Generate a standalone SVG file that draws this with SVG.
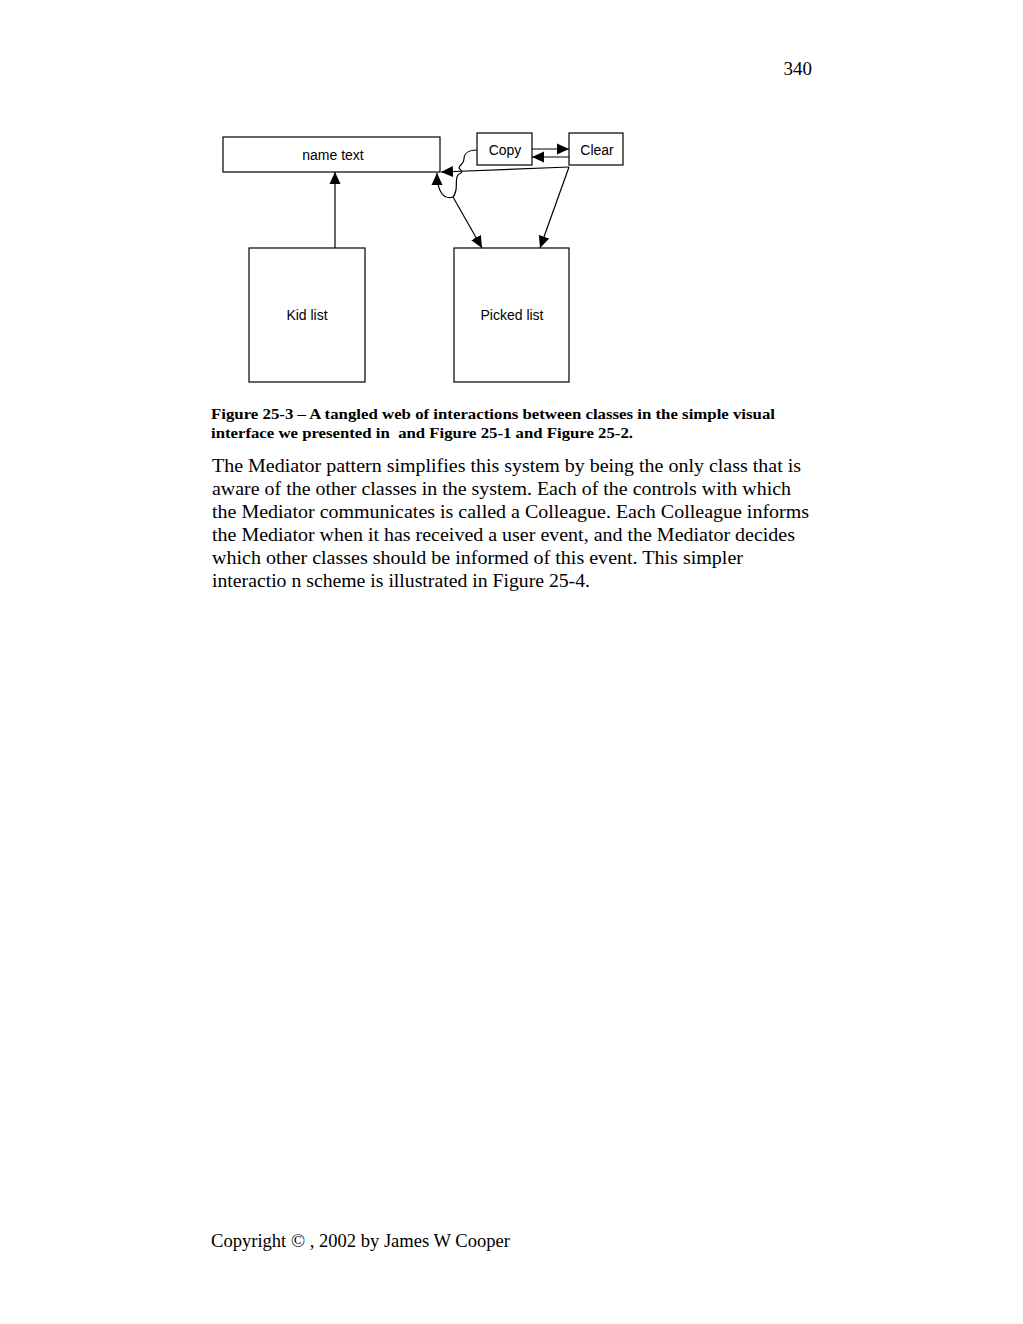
<svg xmlns="http://www.w3.org/2000/svg" width="1023" height="1324" viewBox="0 0 1023 1324">
<style>
.box{fill:#fff;stroke:#000;stroke-width:1.2}
.lbl{font-family:"Liberation Sans",Arial,sans-serif;font-size:14px;text-anchor:middle;fill:#000}
.cap{font-family:"Liberation Serif","Times New Roman",serif;font-size:15px;font-weight:bold;fill:#000}
.body{font-family:"Liberation Serif","Times New Roman",serif;font-size:19px;fill:#000}
.edge{fill:none;stroke:#000;stroke-width:1.2}
</style>
<defs>
<marker id="ah" viewBox="0 0 12 12" refX="12" refY="6" markerWidth="12" markerHeight="12" markerUnits="userSpaceOnUse" orient="auto">
<path d="M0,0.5 L12,6 L0,11.5 z" fill="#000"/>
</marker>
</defs>
<rect width="1023" height="1324" fill="#fff"/>
<text x="812" y="75" class="body" font-size="18" text-anchor="end">340</text>

<g id="name-text"><rect class="box" x="223" y="137" width="217" height="35"/><text class="lbl" x="333" y="160">name text</text></g>
<g id="copy"><rect class="box" x="477" y="133" width="55" height="32"/><text class="lbl" x="505" y="155">Copy</text></g>
<g id="clear"><rect class="box" x="569" y="133" width="54" height="32"/><text class="lbl" x="597" y="155">Clear</text></g>
<g id="kid-list"><rect class="box" x="249" y="248" width="116" height="134"/><text class="lbl" x="307" y="320">Kid list</text></g>
<g id="picked-list"><rect class="box" x="454" y="248" width="115" height="134"/><text class="lbl" x="512" y="320">Picked list</text></g>

<g id="connectors">
<line class="edge" x1="335" y1="248" x2="335" y2="172" marker-end="url(#ah)"/>
<line class="edge" x1="532" y1="149" x2="569" y2="149" marker-end="url(#ah)"/>
<line class="edge" x1="569" y1="157" x2="532" y2="157" marker-end="url(#ah)"/>
<line class="edge" x1="569" y1="167" x2="441" y2="172" marker-end="url(#ah)"/>
<line class="edge" x1="569" y1="167" x2="540" y2="248" marker-end="url(#ah)"/>
<path class="edge" d="M477,150 C468,150 464,154 464,159 C464,164 459,165 459,168 C461,171 464,172 459,174 C455,176 457,184 456,190 C455,194 454,196 453,197"/>
<path class="edge" d="M453,197 C444,200 437,192 437,173" marker-end="url(#ah)"/>
<line class="edge" x1="453" y1="197" x2="482" y2="248" marker-end="url(#ah)"/>
</g>

<text class="cap" x="211" y="419" textLength="564" lengthAdjust="spacingAndGlyphs">Figure 25-3 – A tangled web of interactions between classes in the simple visual</text>
<text class="cap" x="211" y="438" textLength="422" lengthAdjust="spacingAndGlyphs" xml:space="preserve">interface we presented in  and Figure 25-1 and Figure 25-2.</text>

<text class="body" x="212" y="472" textLength="589" lengthAdjust="spacingAndGlyphs">The Mediator pattern simplifies this system by being the only class that is</text>
<text class="body" x="212" y="495" textLength="579" lengthAdjust="spacingAndGlyphs">aware of the other classes in the system. Each of the controls with which</text>
<text class="body" x="212" y="518" textLength="597" lengthAdjust="spacingAndGlyphs">the Mediator communicates is called a Colleague. Each Colleague informs</text>
<text class="body" x="212" y="541" textLength="583" lengthAdjust="spacingAndGlyphs">the Mediator when it has received a user event, and the Mediator decides</text>
<text class="body" x="212" y="564" textLength="531" lengthAdjust="spacingAndGlyphs">which other classes should be informed of this event. This simpler</text>
<text class="body" x="212" y="587" textLength="378" lengthAdjust="spacingAndGlyphs">interactio n scheme is illustrated in Figure 25-4.</text>

<text class="body" x="211" y="1247" font-size="18" textLength="299" lengthAdjust="spacingAndGlyphs">Copyright © , 2002 by James W Cooper</text>
</svg>
